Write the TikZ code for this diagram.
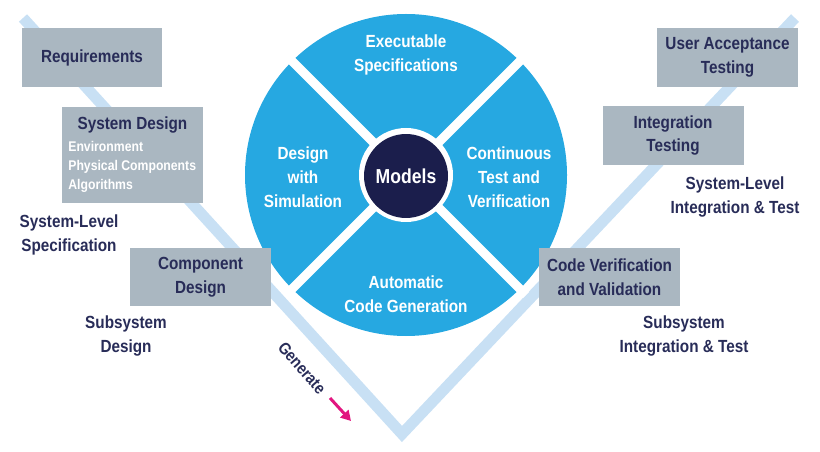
\documentclass[tikz,border=0pt]{standalone}
\usepackage{fontspec}
\setmainfont{Liberation Sans}[FakeStretch=0.87]
\usetikzlibrary{arrows.meta,positioning}

\definecolor{vband}{RGB}{200,224,244}
\definecolor{wheelblue}{RGB}{38,168,225}
\definecolor{modelnavy}{RGB}{27,30,76}
\definecolor{boxgray}{RGB}{170,183,193}
\definecolor{labelnavy}{RGB}{40,44,88}
\definecolor{genpink}{RGB}{226,22,128}

\tikzset{
	stagebox/.style={fill=boxgray, minimum width=2.82cm, minimum height=1.18cm, inner sep=0pt,
		align=center, text=labelnavy, font=\bfseries\fontsize{10}{13.6}\selectfont},
	levellabel/.style={align=center, text=labelnavy, font=\bfseries\fontsize{10}{13.6}\selectfont},
	wheeltext/.style={align=center, text=white, font=\bfseries\fontsize{10}{13.6}\selectfont},
	subitems/.style={align=left, text=white, inner sep=0pt, font=\bfseries\fontsize{8}{11}\selectfont}
}

\begin{document}
\begin{tikzpicture}[x=0.02cm, y=-0.02cm]
			%%%%% START %%%%%
			\useasboundingbox (0, 0) rectangle (820, 452);
			
			% the V
			\draw[line width=0.22cm, color=vband, line join=miter] (23, 18) -- (402, 434) -- (795, 18);
			
			% the wheel
			\fill[wheelblue] (406, 175) circle (161);
			\draw[line width=0.18cm, color=white] (406, 175) ++(-120, -120) -- ++(240, 240);
			\draw[line width=0.18cm, color=white] (406, 175) ++(120, -120) -- ++(-240, 240);
			\fill[white] (406, 175) circle (47);
			\node[circle, fill=modelnavy, minimum size=1.68cm, inner sep=0pt, text=white,
				font=\bfseries\fontsize{11.5}{14}\selectfont] (models) at (406, 176) {Models};
			
			\node[wheeltext] (execspec) at (406, 55) {Executable\\Specifications};
			\node[wheeltext] (designsim) at (303, 177) {Design\\with\\Simulation};
			\node[wheeltext] (conttest) at (509, 177) {Continuous\\Test and\\Verification};
			\node[wheeltext] (autocode) at (406, 294) {Automatic\\Code Generation};
			
			% left side boxes
			\node[stagebox] (requirements) at (92, 57.5) {Requirements};
			\node[stagebox, minimum height=1.94cm] (sysdesign) at (132.5, 155) {};
			\node[stagebox, fill=none] (sysdestitle) at (132.5, 125) {System Design};
			\node[subitems, anchor=west] (sysitems) at (68, 167) {Environment\\Physical Components\\Algorithms};
			\node[stagebox] (compdesign) at (200.5, 277) {Component\\Design};
			
			% right side boxes
			\node[stagebox] (useraccept) at (727.5, 57.5) {User Acceptance\\Testing};
			\node[stagebox] (integtest) at (673, 135.5) {Integration\\Testing};
			\node[stagebox] (codeverif) at (609.5, 277) {Code Verification\\and Validation};
			
			% level labels
			\node[levellabel] (syslevelspec) at (69, 235) {System-Level\\Specification};
			\node[levellabel] (subsysdesign) at (126, 336) {Subsystem\\Design};
			\node[levellabel] (syslevelint) at (735, 197) {System-Level\\Integration \& Test};
			\node[levellabel] (subsysint) at (684, 336) {Subsystem\\Integration \& Test};
			
			% generate
			\node[text=labelnavy, rotate=-49, font=\bfseries\fontsize{9.5}{12}\selectfont] (generate) at (302, 368) {Generate};
			\coordinate (genstart) at (330, 398);
			\coordinate (genend) at (351, 421);
			\draw[line width=0.06cm, color=genpink, -{Triangle[length=0.2cm, width=0.22cm]}] (genstart) -- (genend);
			
			%%%%% END %%%%%
\end{tikzpicture}
\end{document}
